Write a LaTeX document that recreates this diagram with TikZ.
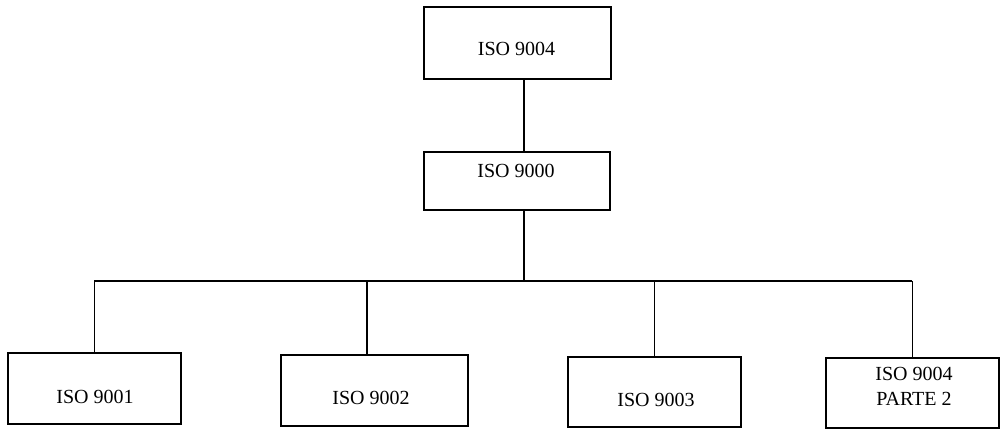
\documentclass[tikz,border=0pt]{standalone}
\usepackage{fontspec}
\setmainfont{Liberation Serif}
\begin{document}
\begin{tikzpicture}[x=1pt,y=-1pt,
  box/.style={draw=black,line width=1.8pt,inner sep=0pt,anchor=north west},
  lbl/.style={font=\fontsize{20}{24}\selectfont,inner sep=0pt,align=center},
  conn/.style={draw=black,line width=1.6pt}]
\useasboundingbox (0,0) rectangle (1003,429);
% boxes (x from left, y from top)
\node[box,minimum width=187pt,minimum height=72pt] (top) at (423,6) {};
\node[box,minimum width=186pt,minimum height=58pt] (mid) at (423,151) {};
\node[box,minimum width=173pt,minimum height=71pt] (b1) at (7,352) {};
\node[box,minimum width=187pt,minimum height=71pt] (b2) at (280,354) {};
\node[box,minimum width=173pt,minimum height=70pt] (b3) at (567,356) {};
\node[box,minimum width=173pt,minimum height=70pt] (b4) at (825,357) {};
% labels
\node[lbl] (ttop) at (516.5,49) {ISO 9004};
\node[lbl] (tmid) at (516,171) {ISO 9000};
\node[lbl] (t1) at (95,397) {ISO 9001};
\node[lbl] (t2) at (371,398) {ISO 9002};
\node[lbl] (t3) at (656,400) {ISO 9003};
\node[lbl] (t4) at (914,386) {ISO 9004\\[1pt]PARTE 2};
% junction coordinates
\coordinate (j) at (524,281);
\coordinate (d2) at (367,281);
% connectors
\draw[conn] (top.south -| j) -- (mid.north -| j);
\draw[conn] (mid.south -| j) -- (j);
\draw[conn] (b1.north |- j) -- (b4.north |- j);
\draw[conn] (b1.north |- j) -- (b1.north);
\draw[conn] (d2) -- (b2.north -| d2);
\draw[conn] (b3.north |- j) -- (b3.north);
\draw[conn] (b4.north |- j) -- (b4.north);
\end{tikzpicture}
\end{document}
